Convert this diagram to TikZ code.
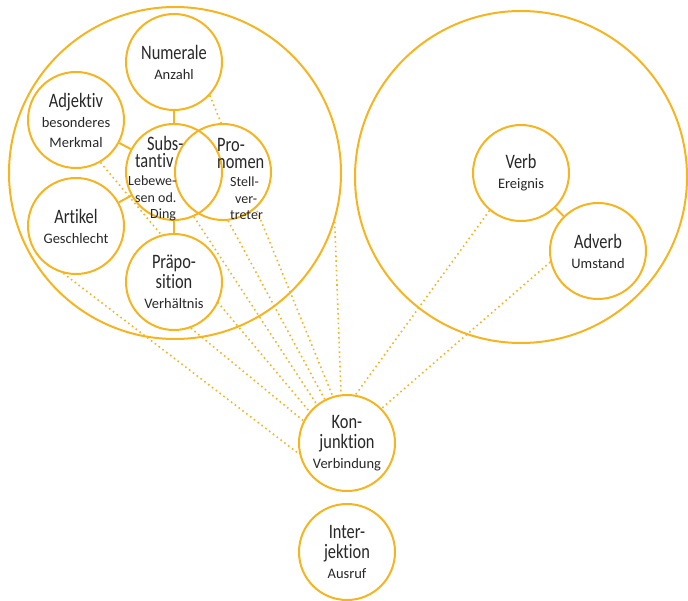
\documentclass[tikz,border=0pt]{standalone}
\usepackage{fontspec}
\setmainfont{Carlito}[Ligatures=NoCommon]
\newfontfamily\mainfam{Carlito}[FakeStretch=0.8,Ligatures=NoCommon]
\usetikzlibrary{backgrounds}
\definecolor{wgold}{RGB}{246,180,32}
\definecolor{wtext}{RGB}{40,40,40}
\newcommand{\subf}{\normalfont\fontsize{14.5}{18.5}\selectfont}
\newcommand{\subn}{\normalfont\fontsize{14}{15}\selectfont}
\begin{document}
\begin{tikzpicture}[x=1pt,y=-1pt,
  wc/.style={circle,draw=wgold,line width=2pt,minimum size=96pt,inner sep=0pt,align=center,text=wtext,font=\mainfam\fontsize{20.5}{20}\selectfont},
  grp/.style={circle,draw=wgold,line width=2pt,minimum size=332pt,inner sep=0pt},
  link/.style={draw=wgold,line width=2pt},
  dots/.style={draw=wgold,line width=1.6pt,dash pattern=on 1.6pt off 3.2pt},
  txt/.style={text=wtext,inner sep=0pt,align=left,font=\mainfam\fontsize{20.5}{16.5}\selectfont}]
\useasboundingbox (0,0) rectangle (688,601);
\node[grp] (nomen) at (175,173) {};
\node[grp] (verbal) at (521,177) {};
\node[wc] (num) at (174,62) {Numerale\\\subf Anzahl};
\node[wc] (adj) at (76,120) {Adjektiv\\\subf besonderes\\\subf Merkmal};
\node[wc] (art) at (76,226) {Artikel\\\subf Geschlecht};
\node[wc] (subst) at (174,172) {};
\node[wc] (pron) at (223,172) {};
\node[wc] (praep) at (174,282) {Präpo-\\sition\\\subf Verhältnis};
\node[wc] (verb) at (521,173) {Verb\\\subf Ereignis};
\node[wc] (adv) at (598,251) {Adverb\\\subf Umstand};
\node[wc] (konj) at (347,443) {Kon-\\junktion\\\subf Verbindung};
\node[wc] (inter) at (347,552) {Inter-\\jektion\\\subf Ausruf};
\node[txt,anchor=west] (substt) at (128,179) {\hspace*{19pt}Subs-\\\hspace*{7pt}tantiv\\[2pt]\subn Lebewe-\\\subn\hspace*{7pt}sen od.\\\subn\hspace*{22pt}Ding};
\node[txt,anchor=west] (pront) at (217,179) {Pro-\\nomen\\[2pt]\subn\hspace*{13pt}Stell-\\\subn\hspace*{18pt}ver-\\\subn\hspace*{13pt}treter};
\draw[link] (num) -- (subst);
\draw[link] (subst) -- (praep);
\draw[link] (adj) -- (subst);
\draw[link] (art) -- (subst);
\draw[link] (verb) -- (adv);
\begin{pgfonlayer}{background}
  \draw[dots] (art.255) -- (konj.193);
  \draw[dots] (praep.290) -- (konj.153);
  \draw[dots] (adj.300) -- (konj.140);
  \draw[dots] (subst.294) -- (konj.128);
  \draw[dots] (pron.276) -- (konj.117);
  \draw[dots] (num.317) -- (konj.107);
  \draw[dots] (nomen.343) -- (konj.97);
  \draw[dots] (verb.230) -- (konj.80);
  \draw[dots] (adv.193) -- (konj.45);
  \foreach \n in {num,adj,art,subst,pron,praep,verb,adv,konj,inter}
    \fill[white] (\n.center) circle (48pt);
\end{pgfonlayer}
\end{tikzpicture}
\end{document}
